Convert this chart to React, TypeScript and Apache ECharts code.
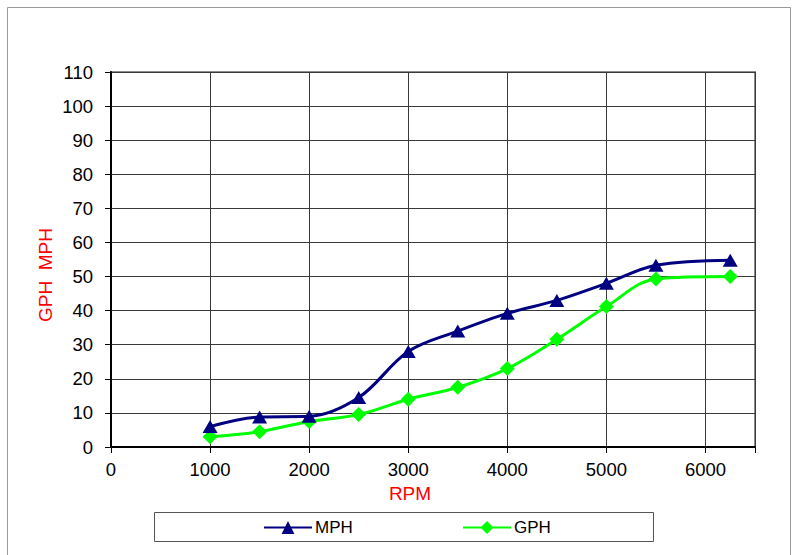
import React, { useEffect, useRef } from "react";
import * as echarts from "echarts";

const rpm = [1000, 1500, 2000, 2500, 3000, 3500, 4000, 4500, 5000, 5500, 6250];
const mph = [6, 8.8, 9, 14.5, 28, 34, 39.2, 43, 48, 53.3, 54.8];
const gph = [3, 4.5, 7.5, 9.5, 14, 17.5, 23, 31.6, 41.2, 49.3, 50];
const seriesNames = ["MPH", "GPH"];
const yAxisTitle = "GPH  MPH";
const xAxisTitle = "RPM";

const FONT = "Liberation Sans, Arial, sans-serif";

export default function App() {
  const ref = useRef<HTMLDivElement>(null);
  useEffect(() => {
    if (!ref.current) return;
    const chart = echarts.init(ref.current, undefined, { renderer: "svg" });
    chart.setOption({
      animation: false,
      backgroundColor: "#ffffff",
      textStyle: { fontFamily: FONT },
      grid: {
        left: 111,
        top: 72,
        right: 44,
        bottom: 108,
        show: true,
        borderColor: "#8c8c8c",
        borderWidth: 2,
        backgroundColor: "transparent",
      },
      xAxis: {
        type: "value",
        min: 0,
        max: 6500,
        interval: 1000,
        axisLine: { show: true, onZero: false, lineStyle: { color: "#000", width: 2 } },
        axisTick: { show: true, length: 6, lineStyle: { color: "#000", width: 1 } },
        axisLabel: {
          margin: 13,
          fontSize: 18.5,
          color: "#000",
          fontFamily: FONT,
          formatter: (v: number) => (v > 6000 ? "" : String(v)),
        },
        splitLine: { show: true, lineStyle: { color: "#3a3a3a", width: 1 } },
      },
      yAxis: {
        type: "value",
        min: 0,
        max: 110,
        interval: 10,
        axisLine: { show: true, lineStyle: { color: "#000", width: 2 } },
        axisTick: { show: true, length: 6, lineStyle: { color: "#000", width: 1 } },
        axisLabel: { margin: 18, fontSize: 18.5, color: "#000", fontFamily: FONT },
        splitLine: { show: true, lineStyle: { color: "#3a3a3a", width: 1 } },
      },
      legend: [
        {
          data: [seriesNames[0]],
          left: 263,
          top: 519,
          padding: 0,
          itemWidth: 48,
          itemHeight: 16,
          itemGap: 4,
          textStyle: { fontSize: 17, color: "#000", fontFamily: FONT, padding: [0, 0, 0, -2] },
        },
        {
          data: [seriesNames[1]],
          left: 462,
          top: 519,
          padding: 0,
          itemWidth: 48,
          itemHeight: 16,
          itemGap: 4,
          textStyle: { fontSize: 17, color: "#000", fontFamily: FONT, padding: [0, 0, 0, -2] },
        },
      ],
      graphic: [
        {
          type: "rect",
          silent: true,
          shape: { x: 7.5, y: 7.5, width: 783, height: 570 },
          style: { fill: "none", stroke: "#9a9a9a", lineWidth: 1 },
          z: -10,
        },
        {
          type: "rect",
          silent: true,
          shape: { x: 154.5, y: 512.5, width: 499, height: 29 },
          style: { fill: "none", stroke: "#555", lineWidth: 1 },
        },
        {
          type: "text",
          x: 45,
          y: 275,
          rotation: Math.PI / 2,
          style: {
            text: yAxisTitle,
            fill: "#ff0000",
            fontSize: 19,
            fontFamily: FONT,
            align: "center",
            verticalAlign: "middle",
          },
        },
        {
          type: "text",
          x: 410,
          y: 493,
          style: {
            text: xAxisTitle,
            fill: "#ff0000",
            fontSize: 19,
            fontFamily: FONT,
            align: "center",
            verticalAlign: "middle",
          },
        },
      ],
      series: [
        {
          name: seriesNames[0],
          type: "line",
          smooth: 0.35,
          data: rpm.map((r, i) => [r, mph[i]]),
          symbol: "triangle",
          symbolSize: [15, 13],
          lineStyle: { color: "#000080", width: 3 },
          itemStyle: { color: "#000080" },
          z: 3,
        },
        {
          name: seriesNames[1],
          type: "line",
          smooth: 0.35,
          data: rpm.map((r, i) => [r, gph[i]]),
          symbol: "diamond",
          symbolSize: [15, 15],
          lineStyle: { color: "#00ff00", width: 3 },
          itemStyle: { color: "#00ff00" },
          z: 2,
        },
      ],
    });
    return () => chart.dispose();
  }, []);
  return (
    <div
      ref={ref}
      style={{ position: "fixed", left: 0, top: 0, width: 799, height: 555 }}
    />
  );
}
